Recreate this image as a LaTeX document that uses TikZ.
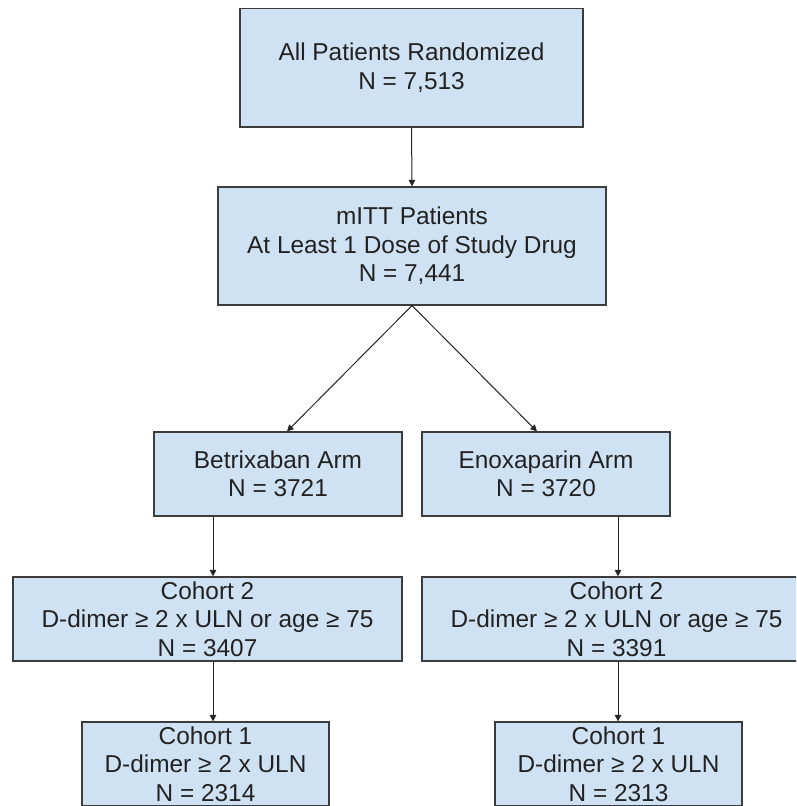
\documentclass[tikz,border=0pt]{standalone}
\usepackage{fontspec}
\setmainfont{Liberation Sans}
\usetikzlibrary{arrows.meta}
\definecolor{boxfill}{HTML}{CFE2F3}
\definecolor{boxline}{HTML}{3C3C3C}
\definecolor{txt}{HTML}{222222}
\tikzset{
  flowbox/.style={draw=boxline, fill=boxfill, line width=1.2pt, inner sep=0pt,
    align=center, text=txt, font=\fontsize{24.4}{28.5}\selectfont},
  arr/.style={draw=black!85, line width=1pt, -{Triangle[length=6.5pt,width=6.5pt]}}
}
\begin{document}
\begin{tikzpicture}[x=1pt,y=-1pt]
\useasboundingbox (0,0) rectangle (796,806);
\clip (0,0) rectangle (796,806);
\fill[white] (0,0) rectangle (796,806);
\node[flowbox, minimum width=343pt, minimum height=118.5pt] (b1) at (411.5,67.75) {All Patients Randomized\\N = 7,513};
\node[flowbox, minimum width=388pt, minimum height=118pt] (b2) at (412,246) {mITT Patients\\At Least 1 Dose of Study Drug\\N = 7,441};
\node[flowbox, minimum width=248pt, minimum height=84pt] (b3) at (278,474) {Betrixaban Arm\\N = 3721};
\node[flowbox, minimum width=248pt, minimum height=84pt] (b4) at (546,474) {Enoxaparin Arm\\N = 3720};
\node[flowbox, minimum width=389pt, minimum height=84pt] (b5) at (207.5,619) {Cohort 2\\D-dimer ≥ 2 x ULN or age ≥ 75\\N = 3407};
\node[flowbox, minimum width=389pt, minimum height=84pt] (b6) at (616.5,619) {Cohort 2\\D-dimer ≥ 2 x ULN or age ≥ 75\\N = 3391};
\node[flowbox, minimum width=247pt, minimum height=84pt] (b7) at (205.5,764) {Cohort 1\\D-dimer ≥ 2 x ULN\\N = 2314};
\node[flowbox, minimum width=247pt, minimum height=84pt] (b8) at (618.5,764) {Cohort 1\\D-dimer ≥ 2 x ULN\\N = 2313};
\coordinate (lx) at (213,0);
\coordinate (rx) at (618,0);
\coordinate (dl) at (287,0);
\coordinate (dr) at (537,0);
\draw[arr] (b1.south) -- (b2.north);
\draw[arr] (b2.south) -- (b3.north -| dl);
\draw[arr] (b2.south) -- (b4.north -| dr);
\draw[arr] (b3.south -| lx) -- (b5.north -| lx);
\draw[arr] (b5.south -| lx) -- (b7.north -| lx);
\draw[arr] (b4.south -| rx) -- (b6.north -| rx);
\draw[arr] (b6.south -| rx) -- (b8.north -| rx);
\end{tikzpicture}
\end{document}
